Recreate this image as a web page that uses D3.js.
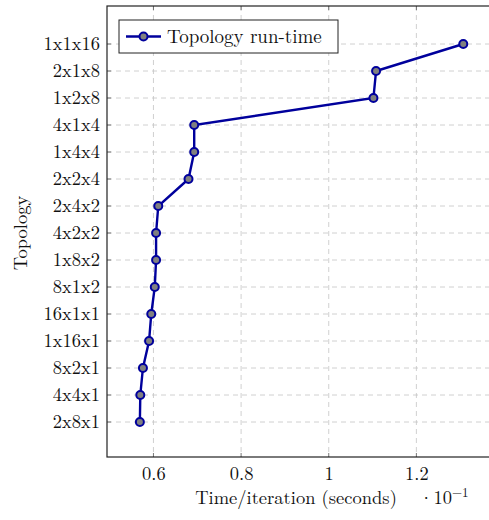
<!DOCTYPE html>
<html>
<head>
<meta charset="utf-8">
<script src="https://cdn.jsdelivr.net/npm/d3@7/dist/d3.min.js"></script>
<style>
  body { margin: 0; background: #fff; }
  .grid line { stroke: #c4c4c4; stroke-width: 0.8; stroke-dasharray: 5,4; }
  .tick-mark { stroke: #555; stroke-width: 0.8; }
</style>
</head>
<body>
<div id="chart"></div>
<script>
//Data - listed bottom to top, as on the y axis
var topologies = ["2x8x1", "4x4x1", "8x2x1", "1x16x1", "16x1x1", "8x1x2", "1x8x2", "4x2x2",
                  "2x4x2", "2x2x4", "1x4x4", "4x1x4", "1x2x8", "2x1x8", "1x1x16"];
var runTimes = [0.569, 0.570, 0.576, 0.590, 0.595, 0.603, 0.606, 0.606,
                0.611, 0.680, 0.693, 0.693, 1.102, 1.108, 1.307];
var xTicks = [0.6, 0.8, 1.0, 1.2];
var xTickLabels = ["0.6", "0.8", "1", "1.2"];
var seriesName = "Topology run-time";

//Canvas - margin convention
var W = 489, H = 520;
var margin = {top: 6, right: -1, bottom: 63, left: 107},
	w = W - margin.left - margin.right,
	h = H - margin.top - margin.bottom;

var lineColor = "#00009c";
var serif = "'Latin Modern Roman', 'Liberation Serif', 'DejaVu Serif', serif";

var xScale = d3.scaleLinear().domain([0.494, 1.368]).range([0, w]);
var yScale = d3.scalePoint().domain(topologies).range([h - 35, 38]);

var points = topologies.map(function(t, i) { return {topo: t, time: runTimes[i]}; });

var svg = d3.select("#chart").append("svg")
	.attr("width", W)
	.attr("height", H);

var g = svg.append("g")
	.attr("transform", "translate(" + margin.left + "," + margin.top + ")");

//Grid
var grid = g.append("g").attr("class", "grid");
grid.selectAll("line.gx")
	.data(xTicks)
	.enter().append("line")
	.attr("x1", function(d) { return xScale(d); })
	.attr("x2", function(d) { return xScale(d); })
	.attr("y1", 0)
	.attr("y2", h);
grid.selectAll("line.gy")
	.data(topologies)
	.enter().append("line")
	.attr("x1", 0)
	.attr("x2", w)
	.attr("y1", function(d) { return yScale(d); })
	.attr("y2", function(d) { return yScale(d); });

//Axes (pgfplots-like inner ticks)
var xAxis = d3.axisBottom(xScale).tickValues(xTicks).tickSize(0).tickPadding(10)
	.tickFormat(function(d, i) { return xTickLabels[i]; });
var yAxis = d3.axisLeft(yScale).tickSize(0).tickPadding(7);

g.append("g")
	.attr("class", "axis x-axis")
	.attr("transform", "translate(0," + h + ")")
	.call(xAxis)
	.call(function(s) { s.select(".domain").remove(); });

g.append("g")
	.attr("class", "axis y-axis")
	.call(yAxis)
	.call(function(s) { s.select(".domain").remove(); });

//tick marks inside the frame
g.selectAll("line.xt")
	.data(xTicks)
	.enter().append("line")
	.attr("class", "tick-mark")
	.attr("x1", function(d) { return xScale(d); })
	.attr("x2", function(d) { return xScale(d); })
	.attr("y1", h).attr("y2", h - 4);
g.selectAll("line.xt2")
	.data(xTicks)
	.enter().append("line")
	.attr("class", "tick-mark")
	.attr("x1", function(d) { return xScale(d); })
	.attr("x2", function(d) { return xScale(d); })
	.attr("y1", 0).attr("y2", 4);
g.selectAll("line.yt")
	.data(topologies)
	.enter().append("line")
	.attr("class", "tick-mark")
	.attr("x1", 0).attr("x2", 4)
	.attr("y1", function(d) { return yScale(d); })
	.attr("y2", function(d) { return yScale(d); });

//Frame
g.append("rect")
	.attr("x", 0).attr("y", 0)
	.attr("width", w).attr("height", h)
	.attr("fill", "none")
	.attr("stroke", "#222")
	.attr("stroke-width", 1.2);

//Series
var line = d3.line()
	.x(function(d) { return xScale(d.time); })
	.y(function(d) { return yScale(d.topo); });

g.append("path")
	.datum(points)
	.attr("d", line)
	.attr("fill", "none")
	.attr("stroke", lineColor)
	.attr("stroke-width", 2.4);

g.selectAll("circle.node")
	.data(points)
	.enter().append("circle")
	.attr("class", "node")
	.attr("r", 4)
	.attr("cx", function(d) { return xScale(d.time); })
	.attr("cy", function(d) { return yScale(d.topo); })
	.attr("fill", "#808080")
	.attr("stroke", lineColor)
	.attr("stroke-width", 2);

//Legend
var legend = g.append("g").attr("transform", "translate(12,14)");
legend.append("rect")
	.attr("width", 219).attr("height", 33)
	.attr("fill", "#fff")
	.attr("stroke", "#222")
	.attr("stroke-width", 1);
legend.append("line")
	.attr("x1", 7).attr("x2", 42)
	.attr("y1", 16.5).attr("y2", 16.5)
	.attr("stroke", lineColor)
	.attr("stroke-width", 2.4);
legend.append("circle")
	.attr("cx", 24.5).attr("cy", 16.5).attr("r", 4)
	.attr("fill", "#808080")
	.attr("stroke", lineColor)
	.attr("stroke-width", 2);
legend.append("text")
	.attr("x", 48).attr("y", 22.5)
	.style("font-size", "19px")
	.text(seriesName);

//Axis titles
svg.append("text")
	.attr("x", 296).attr("y", 504)
	.attr("text-anchor", "middle")
	.style("font-size", "18.5px")
	.text("Time/iteration (seconds)");

var mult = svg.append("text")
	.attr("x", 419).attr("y", 504)
	.style("font-size", "18.5px");
mult.append("tspan").text("\u00b710");
mult.append("tspan").attr("dy", -7).style("font-size", "13px").text("\u22121");

svg.append("text")
	.attr("transform", "translate(27,233) rotate(-90)")
	.attr("text-anchor", "middle")
	.style("font-size", "18.5px")
	.text("Topology");

//all text in the serif face
svg.selectAll(".axis text").style("font-size", "18.5px");
svg.selectAll(".axis").attr("font-family", null);
svg.selectAll("text")
	.style("font-family", serif)
	.style("fill", "#111");
</script>
</body>
</html>
